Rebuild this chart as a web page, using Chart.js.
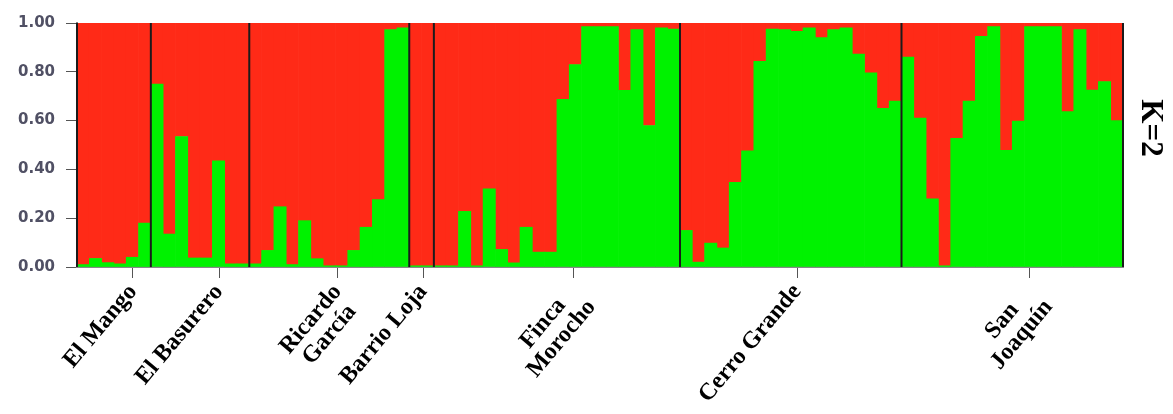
<!DOCTYPE html>
<html>
<head>
<meta charset="utf-8">
<script src="https://cdn.jsdelivr.net/npm/chart.js@4.4.1/dist/chart.umd.min.js"></script>
<style>
  html, body { margin: 0; padding: 0; background: #fff; }
  #wrap { width: 1173px; height: 414px; }
</style>
</head>
<body>
<div id="wrap"><canvas id="structure-k2" width="1173" height="414"></canvas></div>
<script>
// Populations, in plot order (trailing spaces keep the two-line labels roughly centred)
var popNames = ['El Mango', 'El Basurero', ['Ricardo', 'García '], 'Barrio Loja',
                ['Finca   ', 'Morocho'], 'Cerro Grande', ['San    ', 'Joaquín']];

// Membership in the green cluster, one value per individual
var elMango = [0.01, 0.035, 0.018, 0.013, 0.04, 0.18];
var elBasurero = [0.75, 0.135, 0.535, 0.037, 0.037, 0.435, 0.013, 0.013];
var ricardoGarcia = [0.013, 0.068, 0.247, 0.01, 0.19, 0.034, 0.005, 0.005, 0.068, 0.163, 0.276, 0.973, 0.98];
var barrioLoja = [0.005, 0.005];
var fincaMorocho = [0.005, 0.005, 0.228, 0.005, 0.32, 0.072, 0.017, 0.163, 0.061, 0.061,
                    0.687, 0.83, 0.985, 0.985, 0.985, 0.724, 0.973, 0.58, 0.98, 0.975];
var cerroGrande = [0.15, 0.02, 0.098, 0.078, 0.347, 0.476, 0.843, 0.975, 0.973, 0.966,
                   0.98, 0.94, 0.973, 0.98, 0.873, 0.796, 0.65, 0.68];
var sanJoaquin = [0.86, 0.61, 0.279, 0.005, 0.527, 0.68, 0.945, 0.985, 0.478, 0.598,
                  0.985, 0.985, 0.985, 0.637, 0.973, 0.725, 0.76, 0.60];

// where each population label sits, in individual units along the axis
var popLabelAt = [4.55, 11.54, 21.17, 28.12, 40.31, 58.51, 77.44];

var yTicks = [0, 0.2, 0.4, 0.6, 0.8, 1.0];

var kLabel = 'K=2';

var groups = [elMango, elBasurero, ricardoGarcia, barrioLoja, fincaMorocho, cerroGrande, sanJoaquin];

// flatten into one row of individuals
var greenVals = [];
var indLabels = [];
var popBreaks = [0];
groups.forEach(function (g) {
    g.forEach(function (v) {
        greenVals.push(v);
        indLabels.push('ind' + greenVals.length);
    });
    popBreaks.push(greenVals.length);
});
var redVals = greenVals.map(function (v) { return 1 - v; });
var nInd = greenVals.length;

// black population separators, drawn over the bars
var separators = {
    id: 'separators',
    afterDatasetsDraw: function (chart) {
        var ctx = chart.ctx;
        var xs = chart.scales.x;
        var area = chart.chartArea;
        var half = (xs.getPixelForValue(1) - xs.getPixelForValue(0)) / 2;
        ctx.save();
        ctx.strokeStyle = '#1b1b1b';
        ctx.lineWidth = 2;
        popBreaks.forEach(function (b) {
            var px;
            if (b >= nInd) px = xs.getPixelForValue(nInd - 1) + half;
            else px = xs.getPixelForValue(b) - half;
            ctx.beginPath();
            ctx.moveTo(px, area.top);
            ctx.lineTo(px, area.bottom);
            ctx.stroke();
        });
        ctx.restore();
    }
};

// "K=2" written top to bottom at the right of the plot
var kTitle = {
    id: 'kTitle',
    afterDraw: function (chart) {
        var ctx = chart.ctx;
        var area = chart.chartArea;
        ctx.save();
        ctx.translate(area.right + 27, area.top + 105);
        ctx.rotate(Math.PI / 2);
        ctx.font = 'bold 31px "Liberation Serif", serif';
        ctx.fillStyle = '#000';
        ctx.textAlign = 'center';
        ctx.textBaseline = 'middle';
        ctx.fillText(kLabel, 0, 0);
        ctx.restore();
    }
};

var config = {
    type: 'bar',
    data: {
        labels: indLabels,
        datasets: [{
            label: 'cluster 1',
            data: greenVals,
            backgroundColor: '#00F200',
            borderWidth: 0,
            barPercentage: 1.0,
            categoryPercentage: 1.0
        }, {
            label: 'cluster 2',
            data: redVals,
            backgroundColor: '#FF2A17',
            borderWidth: 0,
            barPercentage: 1.0,
            categoryPercentage: 1.0
        }]
    },
    options: {
        responsive: false,
        animation: false,
        layout: { padding: { top: 23, left: 0, right: 50, bottom: 0 } },
        plugins: {
            legend: { display: false },
            tooltip: { enabled: false }
        },
        scales: {
            x: {
                type: 'category',
                stacked: true,
                display: false
            },
            pop: {
                type: 'linear',
                position: 'bottom',
                min: 0,
                max: nInd,
                offset: false,
                afterBuildTicks: function (axis) {
                    axis.ticks = popLabelAt.map(function (v) { return { value: v }; });
                },
                afterFit: function (axis) { axis.height = 147; },
                grid: {
                    offset: false,
                    drawOnChartArea: false,
                    drawTicks: true,
                    tickLength: 11,
                    color: '#555'
                },
                border: { color: '#888', width: 2 },
                ticks: {
                    autoSkip: false,
                    minRotation: 50,
                    maxRotation: 50,
                    padding: 2,
                    color: '#000',
                    font: { family: '"Liberation Serif", serif', size: 24, weight: 'bold', lineHeight: 1.0 },
                    callback: function (val, i) { return popNames[i]; }
                }
            },
            y: {
                stacked: true,
                min: 0,
                max: 1,
                afterBuildTicks: function (axis) {
                    axis.ticks = yTicks.map(function (v) { return { value: v }; });
                },
                afterFit: function (axis) { axis.width = 77; },
                grid: {
                    drawOnChartArea: false,
                    tickLength: 11,
                    color: '#555'
                },
                border: { color: '#888', width: 2 },
                ticks: {
                    padding: 11,
                    color: '#505064',
                    font: { family: '"DejaVu Sans", sans-serif', size: 15, weight: 'bold' },
                    callback: function (v) { return Number(v).toFixed(2); }
                }
            }
        }
    },
    plugins: [separators, kTitle]
};

var structureChart = new Chart(document.getElementById('structure-k2'), config);
</script>
</body>
</html>
